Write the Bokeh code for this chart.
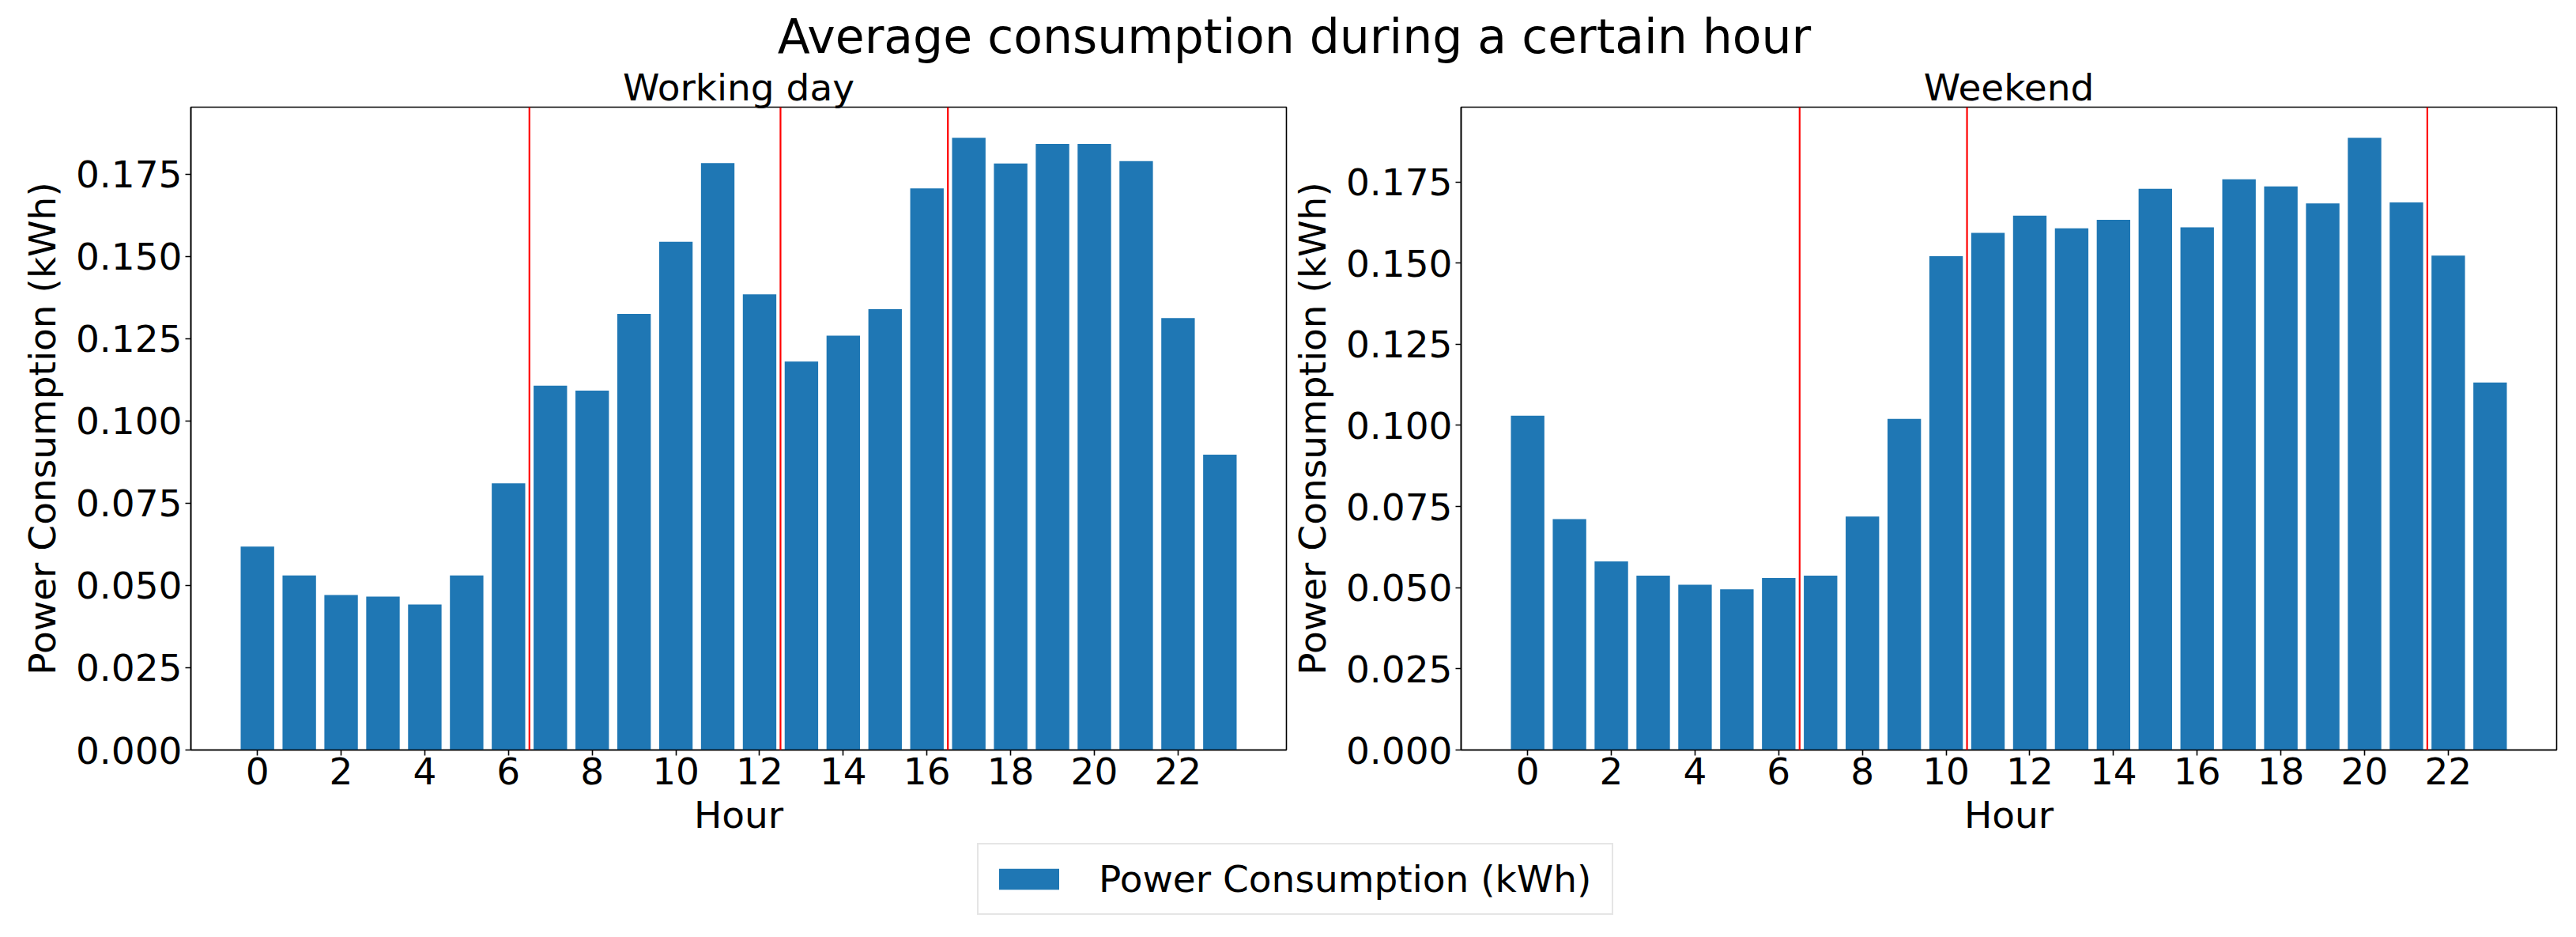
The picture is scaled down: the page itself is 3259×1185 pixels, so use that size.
from bokeh.plotting import figure
from bokeh.models import (Range1d, FixedTicker, NumeralTickFormatter, Span, Legend,
                          LegendItem, ColumnDataSource)
from bokeh.layouts import column, row
from bokeh.embed import file_html
from bokeh.resources import INLINE
from bokeh.core.properties import value

# ---------------- data ----------------
hours = list(range(24))
working_day = [0.0618, 0.0530, 0.0471, 0.0466, 0.0442, 0.0530, 0.0810, 0.1107,
               0.1092, 0.1325, 0.1544, 0.1783, 0.1384, 0.1180, 0.1259, 0.1339,
               0.1706, 0.1860, 0.1782, 0.1841, 0.1841, 0.1789, 0.1312, 0.0897]
weekend = [0.1030, 0.0711, 0.0581, 0.0537, 0.0509, 0.0495, 0.0530, 0.0537,
           0.0719, 0.1020, 0.1521, 0.1593, 0.1646, 0.1607, 0.1633, 0.1729,
           0.1610, 0.1758, 0.1736, 0.1684, 0.1886, 0.1687, 0.1523, 0.1132]
working_splits = [6.5, 12.5, 16.5]
weekend_splits = [6.5, 10.5, 21.5]
x_ticks = list(range(0, 24, 2))
y_ticks = [0.0, 0.025, 0.05, 0.075, 0.1, 0.125, 0.15, 0.175]
main_title = "Average consumption during a certain hour"
subplot_titles = ["Working day", "Weekend"]
x_label = "Hour"
y_label = "Power Consumption (kWh)"
legend_label = "Power Consumption (kWh)"

# ---------------- style / layout ----------------
BAR_COLOR = "#1f77b4"
FONT = "DejaVu Sans"
FRAME_W, FRAME_H = 1386, 813
P1_LEFT, P1_RIGHT = 241, 2
P2_LEFT, P2_RIGHT = 214, 25
PAGE_W = P1_LEFT + FRAME_W + P1_RIGHT + P2_LEFT + FRAME_W + P2_RIGHT
TITLE_H = 81
TOP = 54
BOTTOM = 117
LEGEND_H = 115


def make_panel(vals, splits, left_b, right_b, title):
    lo, hi = min(hours) - 0.4, max(hours) + 0.4
    pad = 0.05 * (hi - lo)
    ymax = max(vals) * 1.05
    p = figure(frame_width=FRAME_W, frame_height=FRAME_H,
               x_range=Range1d(lo - pad, hi + pad),
               y_range=Range1d(0, ymax),
               output_backend="svg", toolbar_location=None,
               min_border_left=left_b, min_border_right=right_b,
               min_border_top=TOP, min_border_bottom=BOTTOM,
               background_fill_color="white", border_fill_color="white")
    src = ColumnDataSource(dict(x=hours, top=vals))
    p.vbar(x="x", top="top", width=0.8, source=src, fill_color=BAR_COLOR,
           line_color=None)
    for s in splits:
        p.add_layout(Span(location=s, dimension="height", line_color="red",
                          line_width=2.2))
    # subplot title, just above the frame
    p.text(x=[(lo - pad + hi + pad) / 2], y=[ymax], text=[title], y_offset=-25,
           text_font=value(FONT), text_font_size="47px", text_align="center",
           text_baseline="middle", text_color="black", level="overlay")
    p.grid.visible = False
    p.outline_line_color = "black"
    p.outline_line_width = 1.6
    p.xaxis.ticker = FixedTicker(ticks=x_ticks)
    p.yaxis.ticker = FixedTicker(ticks=y_ticks)
    p.yaxis.formatter = NumeralTickFormatter(format="0.000")
    p.xaxis.axis_label = x_label
    p.yaxis.axis_label = y_label
    for ax in (p.xaxis, p.yaxis):
        ax.axis_line_width = 1.6
        ax.axis_line_color = "black"
        ax.major_tick_line_width = 1.6
        ax.major_tick_line_color = "black"
        ax.major_tick_out = 7
        ax.major_tick_in = 0
        ax.minor_tick_line_color = None
        ax.major_label_text_font = FONT
        ax.major_label_text_font_size = "47px"
        ax.major_label_text_color = "black"
        ax.axis_label_text_font = FONT
        ax.axis_label_text_font_size = "47px"
        ax.axis_label_text_font_style = "normal"
        ax.axis_label_text_color = "black"
    p.xaxis.major_label_standoff = 2
    p.xaxis.axis_label_standoff = 8
    p.yaxis.major_label_standoff = 4
    p.yaxis.axis_label_standoff = 12
    return p


p1 = make_panel(working_day, working_splits, P1_LEFT, P1_RIGHT, subplot_titles[0])
p2 = make_panel(weekend, weekend_splits, P2_LEFT, P2_RIGHT, subplot_titles[1])

# ---------------- main title strip ----------------
tf = figure(width=PAGE_W, height=TITLE_H, x_range=Range1d(0, PAGE_W),
            y_range=Range1d(0, TITLE_H), x_axis_type=None, y_axis_type=None,
            min_border=0, outline_line_color=None, toolbar_location=None,
            output_backend="svg")
tf.text(x=[1637], y=[TITLE_H - 45], text=[main_title], text_font=value(FONT),
        text_font_size="60px", text_align="center", text_baseline="middle",
        text_color="black")

# ---------------- legend strip ----------------
lf = figure(width=PAGE_W, height=LEGEND_H, x_range=Range1d(0, 1),
            y_range=Range1d(5, 6), x_axis_type=None, y_axis_type=None,
            min_border=0, outline_line_color=None, toolbar_location=None,
            output_backend="svg")
# same bars as the panels, kept outside this strip's visible range: only the swatch shows
swatch = lf.vbar(x=hours, top=working_day, width=0.8, fill_color=BAR_COLOR,
                 line_color=None)
legend = Legend(items=[LegendItem(label=legend_label, renderers=[swatch])],
                location=(1236, 23), padding=16, margin=0, glyph_width=95,
                glyph_height=33, label_standoff=41, label_width=633,
                label_height=53, label_text_font=FONT,
                label_text_font_size="47px", label_text_color="black",
                border_line_color="#cccccc", border_line_width=2,
                background_fill_color="white", background_fill_alpha=1.0)
lf.add_layout(legend)

layout = column(tf, row(p1, p2), lf)
open("out.html", "w").write(file_html(layout, INLINE))
